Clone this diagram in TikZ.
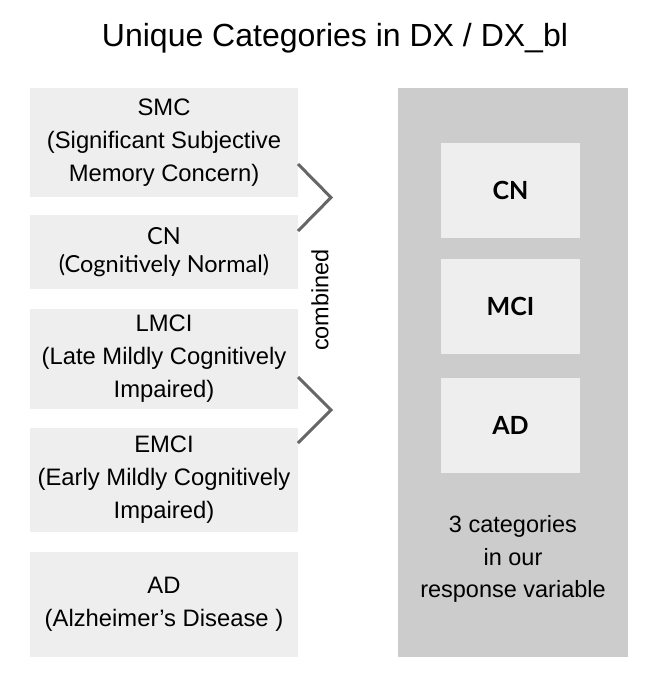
\documentclass[tikz,border=0pt]{standalone}
\usepackage{fontspec}
\setmainfont{Liberation Sans}
\newfontfamily\lato{Lato}
\definecolor{boxgray}{HTML}{EEEEEE}
\definecolor{biggray}{HTML}{CCCCCC}
\definecolor{chevgray}{HTML}{666666}
\begin{document}
\begin{tikzpicture}[x=1pt,y=-1pt,
  leftbox/.style={fill=boxgray, draw=none, minimum width=268pt, inner sep=0pt, align=center, font=\fontsize{23.8}{33}\selectfont},
  innerbox/.style={fill=boxgray, draw=none, minimum width=139pt, minimum height=95pt, inner sep=0pt, font=\lato\bfseries\fontsize{25}{30}\selectfont},
  chev/.style={draw=chevgray, line width=3pt, line join=miter}
]
\useasboundingbox (0,0) rectangle (658,688);
\node[font=\fontsize{32}{38}\selectfont] (title) at (335,38) {Unique Categories in DX / DX\_bl};

\node[leftbox, minimum height=109pt] (smc) at (164,142.5) {SMC\\(Significant Subjective\\Memory Concern)};
\node[leftbox, minimum height=74pt, font=\lato\fontsize{23.5}{28}\selectfont] (cn) at (164,252) {CN\\(Cognitively Normal)};
\node[leftbox, minimum height=100pt] (lmci) at (164,359) {LMCI\\(Late Mildly Cognitively\\Impaired)};
\node[leftbox, minimum height=104pt] (emci) at (164,480) {EMCI\\(Early Mildly Cognitively\\Impaired)};
\node[leftbox, minimum height=105pt] (ad) at (164,604.5) {AD\\(Alzheimer’s Disease )};

\node[fill=biggray, draw=none, minimum width=230pt, minimum height=569pt, inner sep=0pt] (big) at (513,372.5) {};
\node[innerbox] (rcn) at (510.5,190.5) {CN};
\node[innerbox] (rmci) at (510.5,306.5) {MCI};
\node[innerbox] (rad) at (510.5,425.5) {AD};
\node[align=center, font=\fontsize{23.5}{32.5}\selectfont] (resp) at (513,559) {3 categories\\in our\\response variable};

\coordinate (c1a) at (298,164);
\coordinate (c1b) at (331,197.5);
\coordinate (c1c) at (298,231);
\coordinate (c2a) at (298,377);
\coordinate (c2b) at (331,410);
\coordinate (c2c) at (298,443);
\draw[chev] (c1a) -- (c1b) -- (c1c);
\draw[chev] (c2a) -- (c2b) -- (c2c);

\node[rotate=90, font=\fontsize{23.5}{28}\selectfont] (comb) at (320,300) {combined};
\end{tikzpicture}
\end{document}
